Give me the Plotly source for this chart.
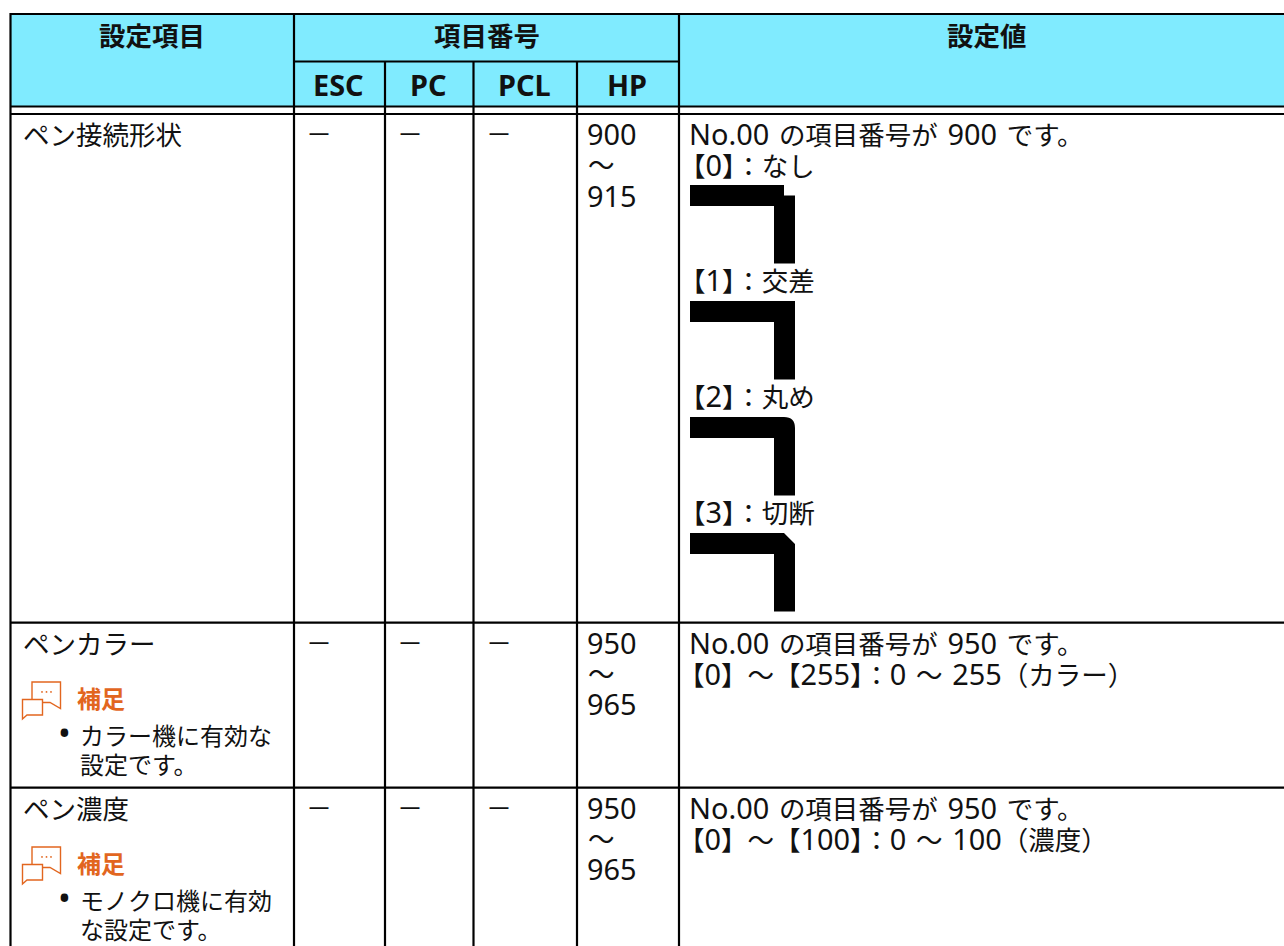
import re
import plotly.graph_objects as go

# ---- table content ----
header_main = ["設定項目", "項目番号", "設定値"]
header_sub = ["ESC", "PC", "PCL", "HP"]
row_names = ["ペン接続形状", "ペンカラー", "ペン濃度"]
no_value = "－"
hp_from = ["900", "950", "950"]
hp_to = ["915", "965", "965"]
tilde = "〜"
setting_first = ["No.00 の項目番号が 900 です。", "No.00 の項目番号が 950 です。", "No.00 の項目番号が 950 です。"]
setting_second = ["【0】：なし", "【0】～【255】：0 ～ 255（カラー）", "【0】～【100】：0 ～ 100（濃度）"]
join_labels = ["【1】：交差", "【2】：丸め", "【3】：切断"]
note_title = "補足"
note_lines = [["カラー機に有効な", "設定です。"], ["モノクロ機に有効", "な設定です。"]]

# ---- layout constants (pixels) ----
W, H = 1284, 946
col_x = [10.5, 294, 385, 473.5, 577, 679]
row_top = [114, 622.7, 787.7]
INK = "#111111"
CYAN = "#80EBFF"
ORANGE = "#E2661F"
FONT = "Noto Sans, Noto Sans CJK JP, sans-serif"
BODY = 26.5
LATIN_SCALE = 1.09

shapes = []
ann = []


def line(x0, y0, x1, y1, w=2.2):
    shapes.append(dict(type="line", x0=x0, y0=y0, x1=x1, y1=y1, line=dict(color="#000000", width=w), layer="above"))


def mixed(s, size):
    # Latin runs are set larger than the Japanese ones, as in the reference
    big = round(size * LATIN_SCALE, 1)
    wide = round(size * 1.4, 1)
    s = re.sub(r"([0-9A-Za-z.]+)", lambda m: f'<span style="font-size:{big}px">{m.group(1)}</span>', s)
    return re.sub(r" (?=[^<]*(?:<span|$))", f'<span style="font-size:{wide}px">\u00a0</span>', s)


def text(x, y, s, size=BODY, bold=False, color=INK, anchor="left"):
    t = mixed(s, size)
    ann.append(dict(x=x, y=y, text=("<b>%s</b>" % t) if bold else t, showarrow=False, xanchor=anchor, yanchor="middle",
                    xref="x", yref="y", font=dict(family=FONT, size=size, color=color), borderpad=0))


def path(d, fill="#000000", lc=None, lw=0):
    shapes.append(dict(type="path", path=d, fillcolor=fill, line=dict(color=lc or fill, width=lw), layer="above"))


# header fill
shapes.append(dict(type="rect", x0=col_x[0], x1=W, y0=14, y1=106, fillcolor=CYAN, line=dict(width=0), layer="below"))

# horizontal rules
line(col_x[0], 14, W, 14)
line(col_x[1], 61.5, col_x[5], 61.5)
line(col_x[0], 106.5, W, 106.5)
line(col_x[0], 114, W, 114)
line(col_x[0], row_top[1], W, row_top[1])
line(col_x[0], row_top[2], W, row_top[2])

# vertical rules
line(col_x[0], 13, col_x[0], H)
line(col_x[1], 13, col_x[1], H)
line(col_x[5], 13, col_x[5], H)
for cx in col_x[2:5]:
    line(cx, 61.5, cx, H)

# headers
text((col_x[0] + col_x[1]) / 2, 36, header_main[0], 26.5, True, anchor="center")
text((col_x[1] + col_x[5]) / 2, 36, header_main[1], 26.5, True, anchor="center")
text(987, 36, header_main[2], 26.5, True, anchor="center")
for i, s in enumerate(header_sub):
    text((col_x[i + 1] + col_x[i + 2]) / 2 - 1, 84, s, 26.5, True, anchor="center")

# body rows
for r, top in enumerate(row_top):
    text(22, top + 21, row_names[r])
    for c in (1, 2, 3):
        text(col_x[c] + 25, top + 20, no_value, 26, anchor="center")
    text(586, top + 19.5, hp_from[r])
    text(587, top + 51, tilde)
    text(586, top + 81, hp_to[r])
    text(688, top + 16.5, setting_first[r])
    text(678 if r == 0 else 677, top + (50 if r == 0 else 48), setting_second[r])

# pen join glyphs
BAR_L, BAR_R, IN_X = 690, 795, 774
T = 21
GH = 78.5
glyph_top = [185, 301, 417, 533]
for k, t in enumerate(glyph_top):
    b = t + GH
    if k == 0:
        corner = f"L784,{t} L784,{t+10.5} L{BAR_R},{t+10.5}"
    elif k == 1:
        corner = f"L{BAR_R},{t}"
    elif k == 2:
        corner = f"L784,{t} Q{BAR_R},{t} {BAR_R},{t+11}"
    else:
        corner = f"L784,{t} L{BAR_R},{t+11}"
    path(f"M{BAR_L},{t} {corner} L{BAR_R},{b} L{IN_X},{b} L{IN_X},{t+T} L{BAR_L},{t+T} Z")
for lbl, t in zip(join_labels, glyph_top[1:]):
    text(678, t - 22, lbl)

# note blocks
for k, top in enumerate(row_top[1:]):
    dy = top - 622.7
    # back bubble
    path(f"M32,{699+dy} L32,{682+dy} L60.5,{682+dy} L60.5,{708.5+dy} L50,{702.5+dy} L43,{702.5+dy}", fill="rgba(0,0,0,0)", lc=ORANGE, lw=1.4)
    # front bubble
    path(f"M22.5,{719+dy} L22.5,{699.5+dy} L42.5,{699.5+dy} L42.5,{715+dy} L27,{715+dy} Z", fill="rgba(0,0,0,0)", lc=ORANGE, lw=1.4)
    for dot_x in (42, 46.5, 51):
        shapes.append(dict(type="circle", x0=dot_x - 0.9, x1=dot_x + 0.9, y0=691 + dy, y1=692.8 + dy,
                           fillcolor=ORANGE, line=dict(width=0), layer="above"))
    text(76, 698 + dy, note_title, 24, True, ORANGE)
    text(64.5, 732 + dy, "•", 34, anchor="center")
    text(79, 735 + dy, note_lines[k][0], 24)
    text(79, 764 + dy, note_lines[k][1], 24)

fig = go.Figure()
fig.add_trace(go.Scatter(x=[0, W], y=[0, H], mode="markers", marker=dict(opacity=0), hoverinfo="skip", showlegend=False))
fig.update_layout(width=W, height=H, margin=dict(l=0, r=0, t=0, b=0), paper_bgcolor="white", plot_bgcolor="white",
                  shapes=shapes, annotations=ann, showlegend=False,
                  xaxis=dict(range=[0, W], visible=False, fixedrange=True),
                  yaxis=dict(range=[H, 0], visible=False, fixedrange=True))
fig.write_html("out.html", config=dict(displayModeBar=False),
               post_script="document.body.style.margin='0';document.body.style.overflow='hidden';")
